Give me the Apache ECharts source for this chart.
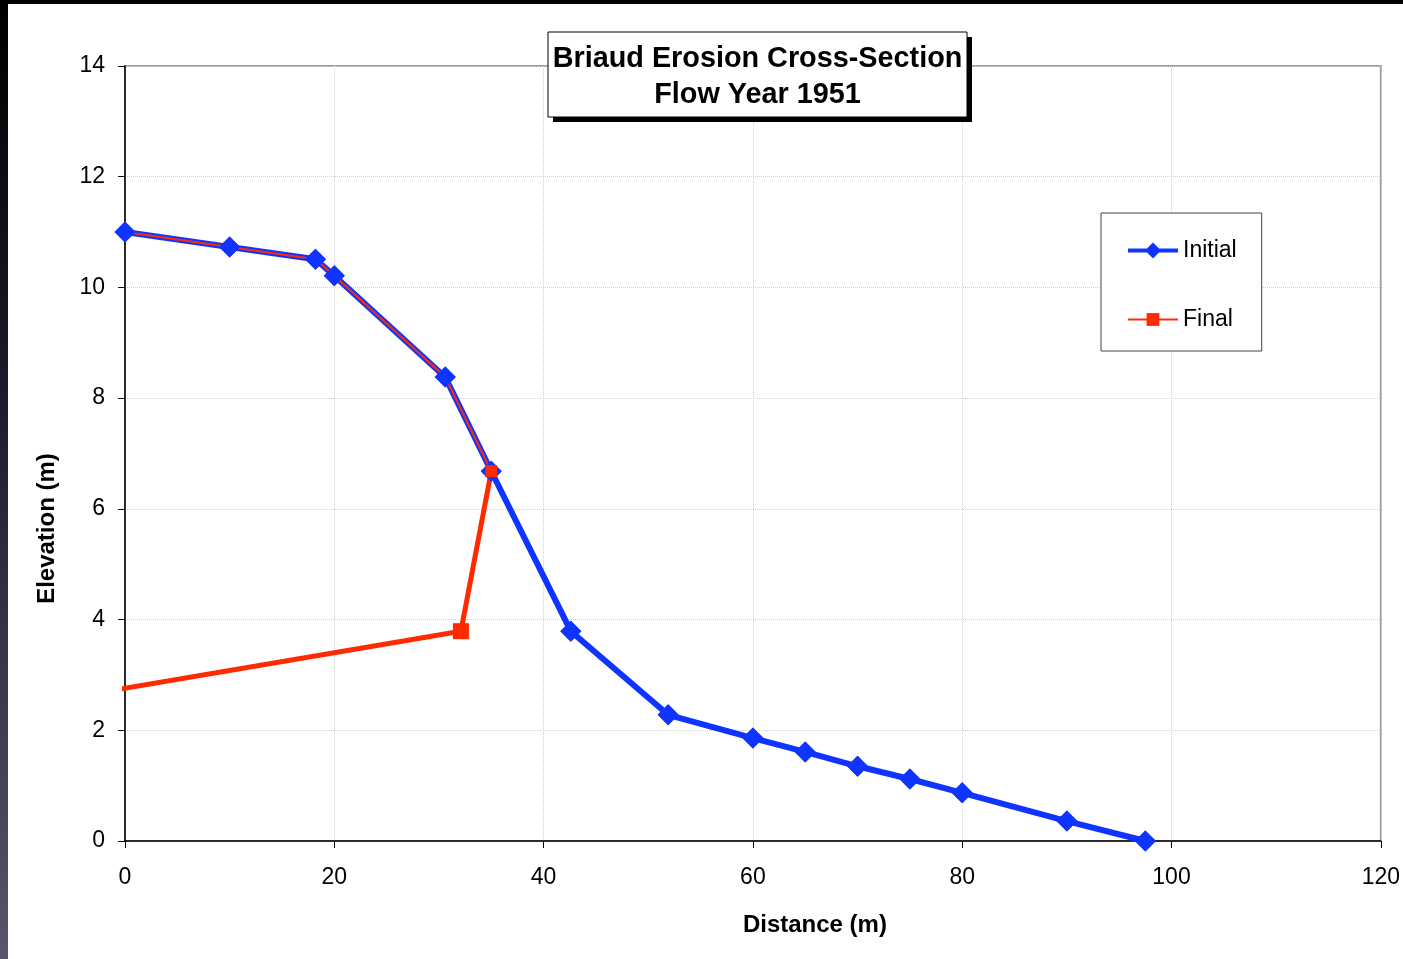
<!DOCTYPE html>
<html>
<head>
<meta charset="utf-8">
<script src="https://cdn.jsdelivr.net/npm/echarts@6/dist/echarts.min.js"></script>
<style>
  html, body { margin: 0; padding: 0; width: 1403px; height: 959px; overflow: hidden;
    background: linear-gradient(to bottom, #000000 0%, #1a1a2a 40%, #56566c 100%); }
  #chart { position: absolute; left: 8px; top: 4px; width: 1395px; height: 955px; background: #ffffff; }
</style>
</head>
<body>
<div id="chart"></div>
<script>
// ---- data ----
const titleText = ['Briaud Erosion Cross-Section', 'Flow Year 1951'];
const xAxisName = 'Distance (m)';
const yAxisName = 'Elevation (m)';
const seriesNames = ['Initial', 'Final'];

const xTicks = [0, 20, 40, 60, 80, 100, 120];
const yTicks = [0, 2, 4, 6, 8, 10, 12, 14];

const initialX = [0, 10, 18.2, 20, 30.6, 35, 42.6, 51.9, 60, 65, 70, 75, 80, 90, 97.5];
const initialY = [11.0, 10.73, 10.51, 10.21, 8.38, 6.68, 3.79, 2.28, 1.86, 1.61, 1.35, 1.12, 0.87, 0.36, 0];

// Final profile: upper part follows the initial bank
const finalX = [0, 10, 18.2, 20, 30.6, 35];
const finalY = [11.0, 10.73, 10.51, 10.21, 8.38, 6.68];

// Final profile: eroded lower part (starts left of the axis, clipped)
const erosionX = [-10, 32.1, 35];
const erosionY = [2.44, 3.79, 6.68];

// Final profile points that carry square markers
const finalMarkX = [32.1, 35];
const finalMarkY = [3.79, 6.68];

// ---- build ----
const pairs = (xs, ys) => xs.map((x, i) => [x, ys[i]]);
const BLUE = '#1034ff';
const RED = '#ff2a00';
const FONT = 'Liberation Sans, Arial, sans-serif';

const chart = echarts.init(document.getElementById('chart'), null, { renderer: 'canvas' });

chart.setOption({
  animation: false,
  backgroundColor: '#ffffff',
  graphic: [
    { type: 'rect', z: 100, zlevel: 0, shape: { x: 545, y: 33, width: 419, height: 85 }, style: { fill: '#000000' } },
    { type: 'rect', z: 101, zlevel: 0, shape: { x: 540, y: 28, width: 419, height: 85 }, style: { fill: '#ffffff', stroke: '#000000', lineWidth: 1 } },
    {
      type: 'text',
      z: 102,
      zlevel: 0,
      x: 749.5,
      y: 73.5,
      style: {
        text: titleText.join('\n'),
        align: 'center',
        verticalAlign: 'middle',
        fontFamily: FONT,
        fontSize: 28.8,
        fontWeight: 'bold',
        lineHeight: 36,
        fill: '#000000'
      }
    }
  ],
  legend: {
    orient: 'vertical',
    left: 1093,
    top: 209,
    padding: [26, 25, 20, 26],
    itemGap: 46,
    itemWidth: 50,
    itemHeight: 16,
    backgroundColor: '#ffffff',
    borderColor: '#444444',
    borderWidth: 1,
    borderRadius: 0,
    textStyle: { fontFamily: FONT, fontSize: 23, color: '#000000' },
    data: [
      { name: seriesNames[0], icon: 'path://M0,6 L50,6 L50,10 L0,10 Z M25,0 L33,8 L25,16 L17,8 Z' },
      { name: seriesNames[1], lineStyle: { width: 2 } }
    ]
  },
  grid: {
    left: 117,
    right: 22,
    top: 62,
    bottom: 118,
    show: true,
    borderColor: '#a0a0a0',
    borderWidth: 2,
    backgroundColor: '#ffffff'
  },
  xAxis: {
    type: 'value',
    min: xTicks[0],
    max: xTicks[xTicks.length - 1],
    interval: xTicks[1] - xTicks[0],
    name: xAxisName,
    nameLocation: 'middle',
    nameGap: 72,
    nameTextStyle: { fontFamily: FONT, fontSize: 24, fontWeight: 'bold', color: '#000000', padding: [0, 0, 0, 124] },
    axisLine: { show: true, onZero: false, lineStyle: { color: '#000000', width: 1.5 } },
    axisTick: { show: true, inside: false, length: 7, lineStyle: { color: '#000000', width: 1 } },
    axisLabel: { margin: 25, fontFamily: FONT, fontSize: 23, color: '#000000' },
    splitLine: { show: true, lineStyle: { color: '#cfcfcf', type: 'dotted', width: 1 } }
  },
  yAxis: {
    type: 'value',
    min: yTicks[0],
    max: yTicks[yTicks.length - 1],
    interval: yTicks[1] - yTicks[0],
    name: yAxisName,
    nameLocation: 'middle',
    nameRotate: 90,
    nameGap: 66,
    nameTextStyle: { fontFamily: FONT, fontSize: 24, fontWeight: 'bold', color: '#000000', padding: [0, 150, 0, 0] },
    axisLine: { show: true, onZero: false, lineStyle: { color: '#000000', width: 1.5 } },
    axisTick: { show: true, inside: false, length: 7, lineStyle: { color: '#000000', width: 1 } },
    axisLabel: { margin: 20, fontFamily: FONT, fontSize: 23, color: '#000000' },
    splitLine: { show: true, lineStyle: { color: '#cfcfcf', type: 'dotted', width: 1 } }
  },
  series: [
    {
      name: seriesNames[0],
      type: 'line',
      data: pairs(initialX, initialY),
      symbol: 'diamond',
      symbolSize: 21,
      itemStyle: { color: BLUE },
      lineStyle: { color: BLUE, width: 6 },
      z: 2,
      clip: true
    },
    {
      name: seriesNames[1],
      type: 'line',
      data: pairs(finalX, finalY).map(v => ({ value: v, symbol: 'none' })),
      symbol: 'rect',
      symbolSize: 12,
      itemStyle: { color: RED },
      lineStyle: { color: RED, width: 2 },
      z: 3,
      clip: true
    },
    {
      name: 'Final (eroded)',
      type: 'line',
      data: pairs(erosionX, erosionY),
      symbol: 'none',
      itemStyle: { color: RED },
      lineStyle: { color: RED, width: 5 },
      z: 3,
      clip: true
    },
    {
      name: 'Initial markers',
      type: 'scatter',
      data: pairs(initialX, initialY),
      symbol: 'diamond',
      symbolSize: 21,
      itemStyle: { color: BLUE, opacity: 1 },
      z: 4,
      clip: true
    },
    {
      name: 'Final markers',
      type: 'scatter',
      data: pairs(finalMarkX, finalMarkY),
      symbol: 'rect',
      symbolSize: (v, p) => (p.dataIndex === 0 ? 16 : 12),
      itemStyle: { color: RED, opacity: 1 },
      z: 5,
      clip: true
    }
  ]
});
</script>
</body>
</html>
